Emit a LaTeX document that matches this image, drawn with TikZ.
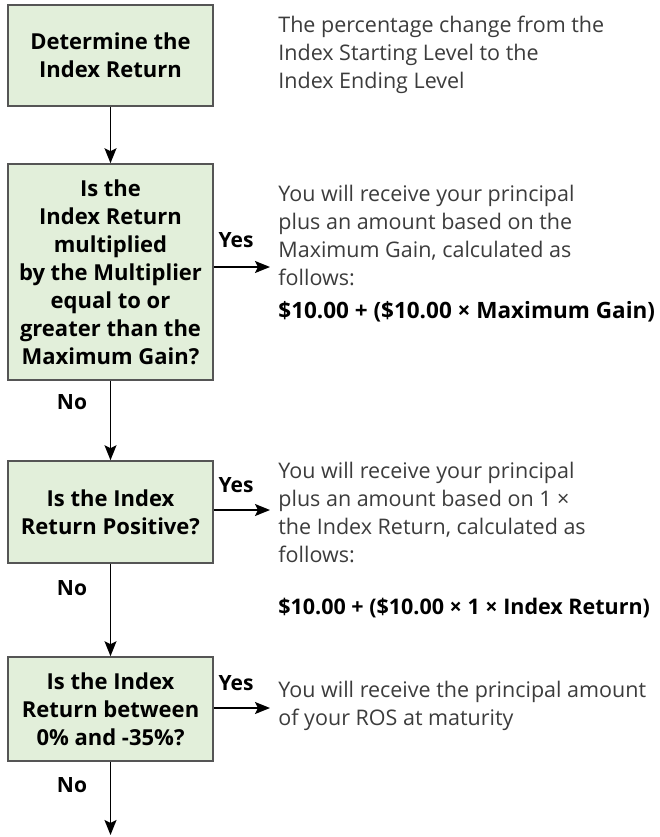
\documentclass[tikz,border=0pt]{standalone}
\usepackage{fontspec}
\setmainfont{Open Sans}
\usetikzlibrary{arrows.meta}
\definecolor{boxgreen}{RGB}{226,239,218}
\definecolor{boxedge}{RGB}{85,85,85}
\definecolor{notegray}{RGB}{60,60,60}
\begin{document}
\begin{tikzpicture}[x=1pt, y=-1pt, thick,
    box/.style={draw=boxedge, fill=boxgreen, line width=1.6pt, minimum width=205pt,
      align=center, inner sep=0pt, font=\bfseries\fontsize{22}{28}\selectfont},
    note/.style={anchor=west, align=left, inner sep=0pt, text=notegray,
      font=\fontsize{21.5}{28}\selectfont},
    lbl/.style={font=\bfseries\fontsize{21}{24}\selectfont},
    arr/.style={-{Stealth[length=15pt, width=12pt, inset=3pt]}, line width=1.6pt}]
    \useasboundingbox (0,0) rectangle (660,837);

    % decision boxes
    \node[box, minimum height=101pt] (det) at (110.5,55.5) {Determine the\\Index Return};
    \node[box, minimum height=216pt] (maxg) at (110.5,272) {Is the\\Index Return\\multiplied\\by the Multiplier\\equal to or\\greater than the\\Maximum Gain?};
    \node[box, minimum height=102pt] (pos) at (110.5,512) {Is the Index\\Return Positive?};
    \node[box, minimum height=104pt] (betw) at (110.5,709) {Is the Index\\Return between\\0\% and -35\%?};

    % notes on the right
    \node[note] (n0) at (278,55) {The percentage change from the\\Index Starting Level to the\\Index Ending Level};
    \node[note] (n1) at (278,254) {You will receive your principal\\plus an amount based on the\\Maximum Gain, calculated as\\follows:\\[5pt]
      \textcolor{black}{\bfseries\fontsize{22.5}{28}\selectfont \$10.00 + (\$10.00 × Maximum Gain)}};
    \node[note] (n2) at (278,540) {You will receive your principal\\plus an amount based on 1 ×\\the Index Return, calculated as\\follows:\\[24pt]
      \textcolor{black}{\bfseries\fontsize{21.5}{28}\selectfont \$10.00 + (\$10.00 × 1 × Index Return)}};
    \node[note] (n3) at (278,706) {You will receive the principal amount\\of your ROS at maturity};

    % main line
    \draw[arr] (det) -- (maxg);
    \draw[arr] (maxg) -- (pos);
    \draw[arr] (pos) -- (betw);
    \coordinate (out) at (110.5,835);
    \draw[arr] (betw) -- (out);

    % yes branches
    \coordinate (to1) at (270,267);
    \coordinate (to2) at (270,510);
    \coordinate (to3) at (270,708);
    \draw[arr] (maxg.east |- to1) -- (to1);
    \draw[arr] (pos.east |- to2) -- (to2);
    \draw[arr] (betw.east |- to3) -- (to3);

    \node[lbl] (yes1) at (236,240) {Yes};
    \node[lbl] (yes2) at (236,485) {Yes};
    \node[lbl] (yes3) at (236,683) {Yes};
    \node[lbl] (no1) at (72,402) {No};
    \node[lbl] (no2) at (72,588) {No};
    \node[lbl] (no3) at (72,785) {No};
\end{tikzpicture}
\end{document}
